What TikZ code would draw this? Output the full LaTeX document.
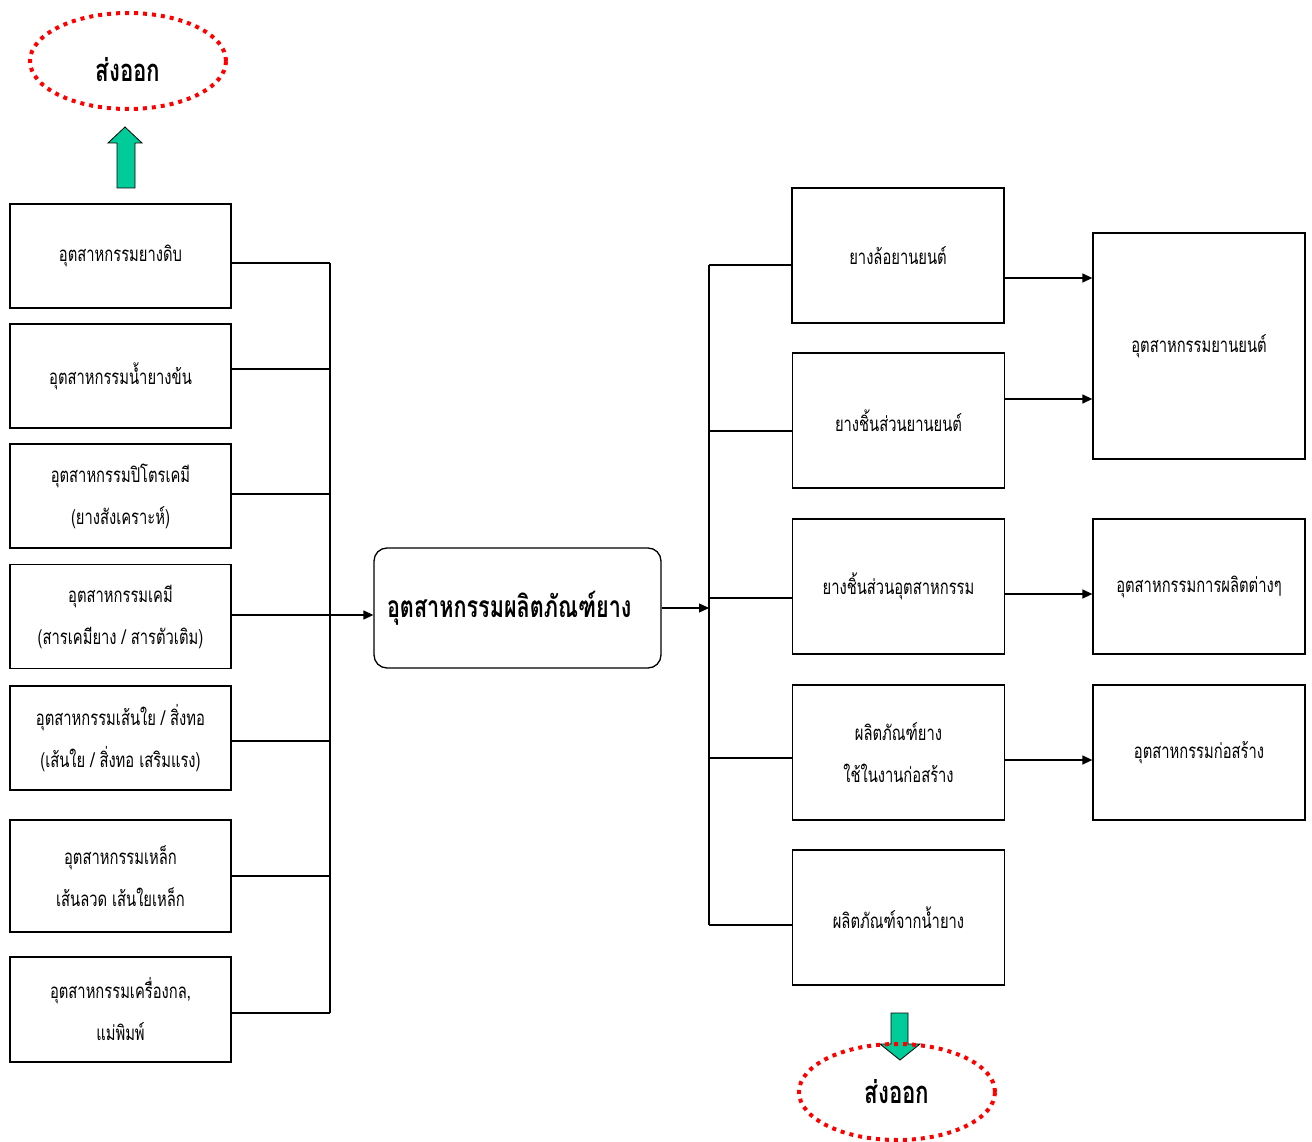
\documentclass[tikz,border=0pt]{standalone}
\usepackage{fontspec}
\newfontfamily\thai[Script=Thai,FakeStretch=0.72]{Loma}
\usetikzlibrary{arrows.meta,shapes.geometric}
\definecolor{exportgreen}{RGB}{0,204,153}
\tikzset{
  box/.style={draw, line width=1.3pt, rectangle, align=center, inner sep=0pt,
    font=\thai\fontsize{20.5}{42}\selectfont},
  leftbox/.style={box, minimum width=221pt, minimum height=104pt},
  midbox/.style={box, minimum width=212pt, minimum height=135pt},
  wire/.style={line width=1.3pt},
  arr/.style={line width=1.3pt, -{Triangle[length=10pt,width=9pt]}},
  export/.style={ellipse, draw=red, line width=4pt, dash pattern=on 4pt off 5pt,
    minimum width=196pt, minimum height=96pt, font=\thai\bfseries\fontsize{31}{34}\selectfont},
  bigarrow/.style={fill=exportgreen, draw=black, line width=0.8pt, line join=miter}
}
\begin{document}
\begin{tikzpicture}[x=1pt,y=-1pt]
\useasboundingbox[fill=white] (0,0) rectangle (1312,1142);

% supplier industries (left column)
\node[leftbox] (l1) at (120.5,256) {อุตสาหกรรมยางดิบ};
\node[leftbox] (l2) at (120.5,376) {อุตสาหกรรมน้ำยางข้น};
\node[leftbox] (l3) at (120.5,496) {อุตสาหกรรมปิโตรเคมี\\(ยางสังเคราะห์)};
\node[leftbox] (l4) at (120.5,616.5) {อุตสาหกรรมเคมี\\(สารเคมียาง / สารตัวเติม)};
\node[leftbox] (l5) at (120.5,738) {อุตสาหกรรมเส้นใย / สิ่งทอ\\(เส้นใย / สิ่งทอ เสริมแรง)};
\node[leftbox, minimum height=112pt] (l6) at (120.5,876) {อุตสาหกรรมเหล็ก\\เส้นลวด เส้นใยเหล็ก};
\node[leftbox, minimum height=105pt] (l7) at (120.5,1009.5) {อุตสาหกรรมเครื่องกล,\\แม่พิมพ์};

% central industry
\node[draw, line width=1.3pt, rounded corners=13pt, minimum width=287pt, minimum height=120pt,
  text width=261pt, align=left, inner xsep=13pt,
  font=\thai\bfseries\fontsize{30}{34}\selectfont] (core) at (517.5,608) {\raisebox{6pt}{อุตสาหกรรมผลิตภัณฑ์ยาง}};

% rubber products (middle column)
\node[midbox] (m1) at (898,255.5) {ยางล้อยานยนต์};
\node[midbox] (m2) at (898.5,420.5) {ยางชิ้นส่วนยานยนต์};
\node[midbox] (m3) at (898.5,586.5) {ยางชิ้นส่วนอุตสาหกรรม};
\node[midbox] (m4) at (898.5,752.5) {ผลิตภัณฑ์ยาง\\ใช้ในงานก่อสร้าง};
\node[midbox] (m5) at (898.5,917.5) {ผลิตภัณฑ์จากน้ำยาง};

% user industries (right column)
\node[box, minimum width=212pt, minimum height=226pt] (r1) at (1199,346) {อุตสาหกรรมยานยนต์};
\node[box, minimum width=212pt, minimum height=135pt] (r2) at (1199,586.5) {อุตสาหกรรมการผลิตต่างๆ};
\node[box, minimum width=212pt, minimum height=135pt] (r3) at (1199,752.5) {อุตสาหกรรมก่อสร้าง};

% left collector bus
\coordinate (lb1) at (330,263);
\coordinate (lb2) at (330,369);
\coordinate (lb3) at (330,494);
\coordinate (lb4) at (330,615);
\coordinate (lb5) at (330,741);
\coordinate (lb6) at (330,876);
\coordinate (lb7) at (330,1013);
\foreach \i in {1,...,7} \draw[wire] (l\i.east |- lb\i) -- (lb\i);
\draw[wire] (lb1) -- (lb7);
\draw[arr] (lb4) -- (core.west |- lb4);

% right distribution bus
\coordinate (rb1) at (709,265);
\coordinate (rb2) at (709,431);
\coordinate (rb3) at (709,598);
\coordinate (rb4) at (709,758);
\coordinate (rb5) at (709,925);
\coordinate (rbc) at (709,608);
\foreach \i in {1,...,5} \draw[wire] (rb\i) -- (m\i.west |- rb\i);
\draw[wire] (rb1) -- (rb5);
\draw[arr] (core.east |- rbc) -- (rbc);

% flows to user industries
\coordinate (f1) at (0,278);
\coordinate (f2) at (0,399);
\coordinate (f3) at (0,594);
\coordinate (f4) at (0,760);
\draw[arr] (m1.east |- f1) -- (r1.west |- f1);
\draw[arr] (m2.east |- f2) -- (r1.west |- f2);
\draw[arr] (m3.east |- f3) -- (r2.west |- f3);
\draw[arr] (m4.east |- f4) -- (r3.west |- f4);

% exports
\node[export] (ex1) at (128,61) {\raisebox{-9pt}[\height][\depth]{ส่งออก}};
\draw[bigarrow] (117,188) -- (117,143) -- (108,143) -- (125,127) -- (142,143) -- (135,143) -- (135,188) -- cycle;

\draw[bigarrow] (891,1013) -- (908,1013) -- (908,1044) -- (920,1044) -- (900,1060) -- (880,1044) -- (891,1044) -- cycle;
\node[export] (ex2) at (897,1092) {ส่งออก};
\end{tikzpicture}
\end{document}
